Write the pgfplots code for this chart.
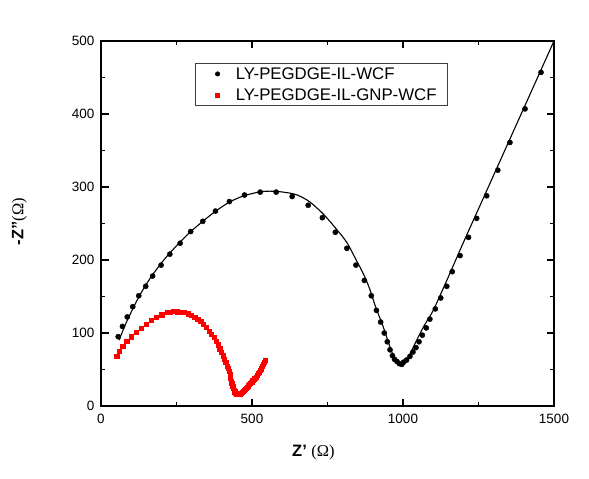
\documentclass[border=0pt]{standalone}
\usepackage{fontspec}
\setmainfont{Liberation Sans}
\newfontfamily\serif{Liberation Serif}
\usepackage{pgfplots}
\pgfplotsset{compat=1.18}
\pgfplotsset{
  dotleg/.style={legend image code/.code={\draw[##1, mark size=#1] plot coordinates {(0pt,0pt)}; \path (-16pt,0pt) (13pt,0pt);}},
}

\begin{document}
\begin{tikzpicture}
\useasboundingbox (-101pt,-73pt) rectangle (488pt,406pt);
\begin{axis}[
  scale only axis, width=453pt, height=365pt,
  xmin=0, xmax=1500, ymin=0, ymax=500,
  xtick={0,500,1000,1500}, ytick={0,100,...,500},
  minor x tick num=1, minor y tick num=1,
  tick align=inside, tick pos=both,
  major tick length=7.5pt, minor tick length=4pt,
  axis line style={line width=1.2pt},
  every tick/.style={black, line width=1.1pt},
  every minor tick/.style={black, line width=1.1pt},
  tick label style={font=\fontsize{13.5}{13.5}\selectfont},
  /pgf/number format/assume math mode=true,
  /pgf/number format/1000 sep={},
  xticklabel style={yshift=-5pt},
  yticklabel style={xshift=-3pt},
  xlabel={\textbf{Z'} {\serif(Ω)}},
  ylabel={\textbf{-Z''}{\serif(Ω)}},
  label style={font=\fontsize{16.5}{16.5}\selectfont},
  xlabel style={at={(axis description cs:0.469,-0.097)}, anchor=north},
  ylabel style={at={(axis description cs:-0.18,0.505)}, anchor=center},
  legend style={at={(axis description cs:0.2075,0.9397)}, anchor=north west,
    draw=black!75, line width=0.6pt, font=\fontsize{16.8}{16.8}\selectfont,
    inner xsep=6pt, inner ysep=3pt, row sep=6pt, cells={anchor=west},
    nodes={inner xsep=5pt, inner ysep=1pt}},
]
% fitted curve
\addplot[black, line width=1.1pt, smooth, forget plot] coordinates {
(60,90) (75,106) (90,120) (110,137) (130,153) (155,170) (180,185) (210,201)
(240,215) (270,228) (300,240) (340,254) (380,267) (420,278) (460,286) (500,291)
(540,294) (580,294) (620,292) (650,289) (690,280) (736,263) (780,242) (814,224)
(845,200) (870,180) (890,160) (910,135) (935,108) (955,83) (970,67) (982,59)
(992,56) (1002,58) (1015,65) (1030,77) (1045,90) (1070,110) (1100,131) (1145,172)
(1200,224) (1250,270) (1300,316) (1350,362) (1400,408) (1450,454) (1500,500)
};
\addplot[only marks, mark=*, mark size=2.6pt, black, dotleg=2.2pt]
coordinates {
(57,95) (71,109) (87,122) (105,136) (125,151) (148,164) (171,178) (199,193)
(228,208) (262,223) (297,239) (337,253) (379,267) (425,280) (475,289) (527,293)
(580,293) (633,287) (686,275) (733,258) (776,238) (814,216) (844,193) (872,172)
(895,151) (912,131) (926,115) (938,100) (948,88) (957,77) (965,69) (972,64)
(980,61) (988,58) (996,57) (1002,60) (1012,63) (1023,68) (1033,74) (1043,80)
(1053,88) (1064,97) (1077,107) (1089,119) (1107,133) (1125,148) (1145,164) (1163,184)
(1189,206) (1217,231) (1244,257) (1277,288) (1314,323) (1354,361) (1404,407) (1457,457)
};
\addlegendentry{LY-PEGDGE-IL-WCF}
\addplot[only marks, mark=square*, mark size=2.1pt, red, dotleg=1.9pt]
coordinates {
(52,68.5) (61,75) (72,82) (85,88.6) (100,95) (116,101) (132,107) (149,112)
(166,117) (184,122) (201,125) (219,128) (228,129) (240,129.5) (251,129.2) (263,129)
(276,128) (288,126.5) (298,124.7) (310,122) (320,119) (330,116) (339,112) (348,108)
(358,103) (366,98.5) (374,94) (381,89) (387,84) (393,78.5) (399,73.5) (404,69)
(409,64) (413,59.5) (417,55) (421,51.5) (424,48) (427,43) (429,38) (431,34.5)
(433,31) (436,27.4) (438,24.5) (440,22) (443,19.6) (446,17.8) (449,16.5) (452,16)
(455,16) (458,16.2) (461,16.8) (464,17.5) (467,18.5) (471,20) (474,21.5) (478,23)
(481,24.5) (485,26) (488,27.8) (492,29.5) (495,31.2) (499,33) (502,35) (506,37)
(509,38.5) (513,40) (516,42) (520,44.5) (523,46.5) (527,48.5) (530,51) (534,54)
(537,57.5) (540,60) (544,63)
};
\addlegendentry{LY-PEGDGE-IL-GNP-WCF}
\end{axis}
\end{tikzpicture}
\end{document}
